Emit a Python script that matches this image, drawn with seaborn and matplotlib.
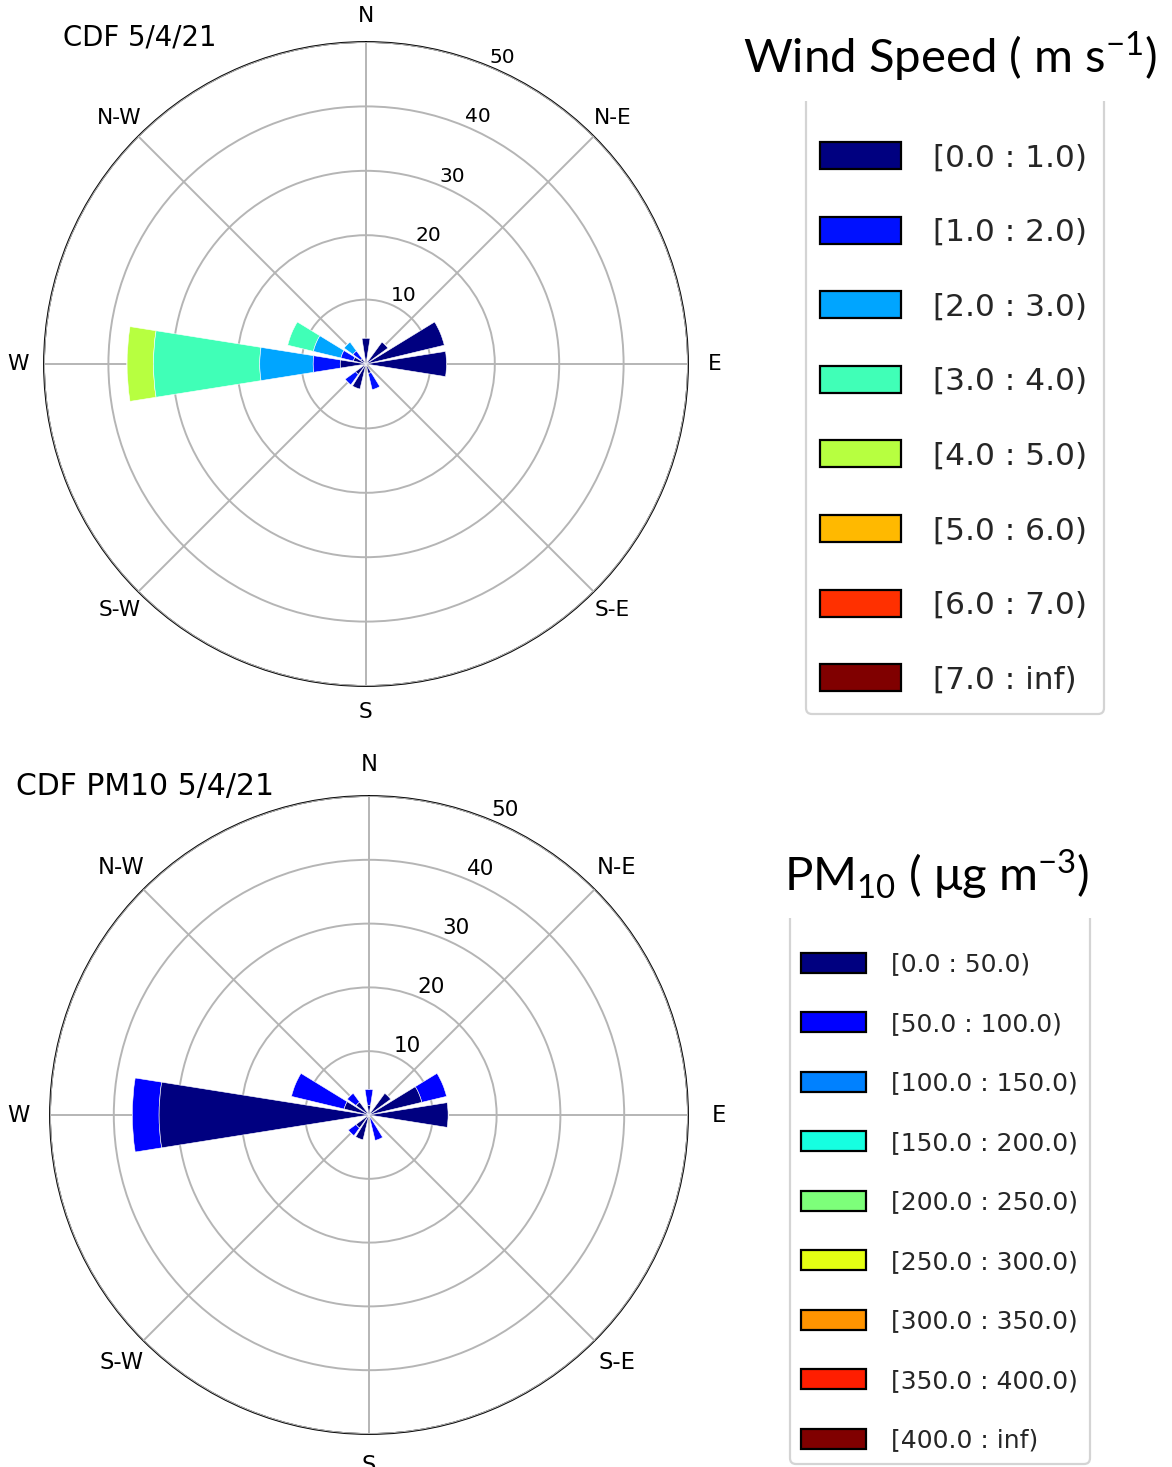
import numpy as np
import matplotlib
matplotlib.use("Agg")
import matplotlib.pyplot as plt
from matplotlib.patches import Patch, FancyBboxPatch, Rectangle
import seaborn as sns

# ---------------- data ----------------
directions = ["N", "NNE", "NE", "ENE", "E", "ESE", "SE", "SSE",
              "S", "SSW", "SW", "WSW", "W", "WNW", "NW", "NNW"]
dir_deg = np.arange(16) * 22.5  # compass degrees

ws_labels = ["[0.0 : 1.0)", "[1.0 : 2.0)", "[2.0 : 3.0)", "[3.0 : 4.0)",
             "[4.0 : 5.0)", "[5.0 : 6.0)", "[6.0 : 7.0)", "[7.0 : inf)"]
#              N   NNE  NE   ENE   E    ESE  SE  SSE  S   SSW  SW   WSW  W     WNW  NW   NNW
ws_bin0 = [4.0, 0, 4.2, 12.5, 12.5, 0, 0, 1.5, 0, 4.0, 2.0, 0, 4.0, 2.0, 1.0, 0]
ws_bin1 = [0, 0, 0, 0, 0, 0, 0, 2.6, 0, 0, 2.0, 0, 4.2, 2.0, 1.5, 0]
ws_bin2 = [0, 0, 0, 0, 0, 0, 0, 0, 0, 0, 0, 0, 8.3, 4.4, 1.7, 0]
ws_bin3 = [0, 0, 0, 0, 0, 0, 0, 0, 0, 0, 0, 0, 16.5, 4.1, 0, 0]
ws_bin4 = [0, 0, 0, 0, 0, 0, 0, 0, 0, 0, 0, 0, 4.1, 0, 0, 0]
ws_bin5 = [0] * 16
ws_bin6 = [0] * 16
ws_bin7 = [0] * 16

pm_labels = ["[0.0 : 50.0)", "[50.0 : 100.0)", "[100.0 : 150.0)", "[150.0 : 200.0)",
             "[200.0 : 250.0)", "[250.0 : 300.0)", "[300.0 : 350.0)",
             "[350.0 : 400.0)", "[400.0 : inf)"]
pm_bin0 = [1.5, 0, 4.2, 8.5, 12.4, 0, 0, 0.5, 0, 4.0, 2.5, 0, 32.9, 4.0, 2.5, 0]
pm_bin1 = [2.5, 0, 0, 4.0, 0, 0, 0, 3.6, 0, 0, 1.5, 0, 4.2, 8.5, 1.7, 0]
pm_bin2 = [0] * 16
pm_bin3 = [0] * 16
pm_bin4 = [0] * 16
pm_bin5 = [0] * 16
pm_bin6 = [0] * 16
pm_bin7 = [0] * 16
pm_bin8 = [0] * 16

theta_labels = ["N", "N-E", "E", "S-E", "S", "S-W", "W", "N-W"]
r_ticks = [10, 20, 30, 40, 50]

# ---------------- style ----------------
sns.set_theme(style="white")
plt.rcParams["font.family"] = ["DejaVu Sans"]
plt.rcParams["mathtext.fontset"] = "custom"
plt.rcParams["mathtext.rm"] = "Lato"
plt.rcParams["axes.unicode_minus"] = False

W, H = 1172, 1467
fig = plt.figure(figsize=(W / 100, H / 100), dpi=100)
fig.patch.set_facecolor("white")


def rose(rect, bins, colors, title, title_xy, title_size, lab_size, rlab_size, pad):
    ax = fig.add_axes(rect, projection="polar")
    ax.set_theta_zero_location("N")
    ax.set_theta_direction(-1)
    theta = np.deg2rad(dir_deg)
    width = np.deg2rad(22.5 * 0.8)
    bottom = np.zeros(16)
    for i, vals in enumerate(bins):
        vals = np.asarray(vals, dtype=float)
        ax.bar(theta, vals, width=width, bottom=bottom, color=colors[i],
               edgecolor="white", linewidth=0.4, zorder=1 + len(bins) - i)
        bottom = bottom + vals
    ax.set_ylim(0, 50)
    ax.set_xticks(np.deg2rad(np.arange(0, 360, 45)))
    ax.set_xticklabels(theta_labels, fontsize=lab_size)
    ax.tick_params(axis="x", pad=pad, labelcolor="black")
    ax.set_rgrids(r_ticks, labels=[str(t) for t in r_ticks], angle=22.5,
                  fontsize=rlab_size)
    ax.tick_params(axis="y", labelcolor="black")
    ax.set_axisbelow(False)
    ax.grid(True, color="#b5b5b5", linewidth=1.4, zorder=20)
    ax.spines["polar"].set_color("black")
    ax.spines["polar"].set_linewidth(1.3)
    ax.set_facecolor("white")
    fig.text(title_xy[0] / W, 1 - title_xy[1] / H, title, fontsize=title_size,
             ha="center", va="center", color="black")
    return ax


jet = matplotlib.colormaps["jet"]
ws_colors = [jet(v) for v in np.linspace(0, 1, 8)]
pm_colors = [jet(v) for v in np.linspace(0, 1, 9)]

ws_bins = [ws_bin0, ws_bin1, ws_bin2, ws_bin3, ws_bin4, ws_bin5, ws_bin6, ws_bin7]
pm_bins = [pm_bin0, pm_bin1, pm_bin2, pm_bin3, pm_bin4, pm_bin5, pm_bin6, pm_bin7, pm_bin8]

rose([44 / W, 1 - 686 / H, 644 / W, 644 / H], ws_bins, ws_colors,
     "CDF 5/4/21", (140, 37), 19.8, 15.7, 14.5, 6)
rose([50 / W, 1 - 1434 / H, 638 / W, 638 / H], pm_bins, pm_colors,
     "CDF PM10 5/4/21", (145, 786), 21.5, 16.3, 15.5, 9.5)


def legend_block(labels, colors, fs_pt, anchor_px, frame_px, title, title_xy,
                 handlelength, handleheight, labelspacing, handletextpad):
    handles = [Patch(facecolor=c, edgecolor="black", linewidth=1.6) for c in colors]
    leg = fig.legend(handles, labels, loc="upper left",
                     bbox_to_anchor=(anchor_px[0] / W, 1 - anchor_px[1] / H),
                     frameon=False, fontsize=fs_pt, handlelength=handlelength,
                     handleheight=handleheight, labelspacing=labelspacing,
                     handletextpad=handletextpad, borderpad=0.45,
                     borderaxespad=0)
    for t in leg.get_texts():
        t.set_color("#262626")
    x0, y0, x1, y1 = frame_px
    box = FancyBboxPatch((x0, H - y1), x1 - x0, (y1 - y0) + 20,
                         boxstyle="round,pad=0,rounding_size=6",
                         facecolor="none", edgecolor="#d4d4d4", linewidth=1.6,
                         transform=None, zorder=5)
    fig.add_artist(box)
    cover = Rectangle((x0 - 5, H - y0), (x1 - x0) + 10, 30, facecolor="white",
                      edgecolor="none", transform=None, zorder=6)
    fig.add_artist(cover)
    fig.text(title_xy[0] / W, 1 - title_xy[1] / H, title, fontsize=34,
             family=["Lato", "DejaVu Sans"], ha="center", va="center",
             color="black", zorder=10)


legend_block(ws_labels, ws_colors, 22.5, (806, 128), (806, 101, 1104, 714),
             "Wind Speed ( m s$^{\\mathregular{-1}}$)", (950, 57),
             2.6, 0.95, 1.42, 1.0)
legend_block(pm_labels, pm_colors, 18, (790, 941), (790, 918, 1090, 1464),
             "PM$_{\\mathregular{10}}$ ( \u03bcg m$^{\\mathregular{-3}}$)", (937, 875),
             2.6, 0.85, 1.42, 1.0)

fig.savefig("out.png", dpi=100, facecolor="white")
